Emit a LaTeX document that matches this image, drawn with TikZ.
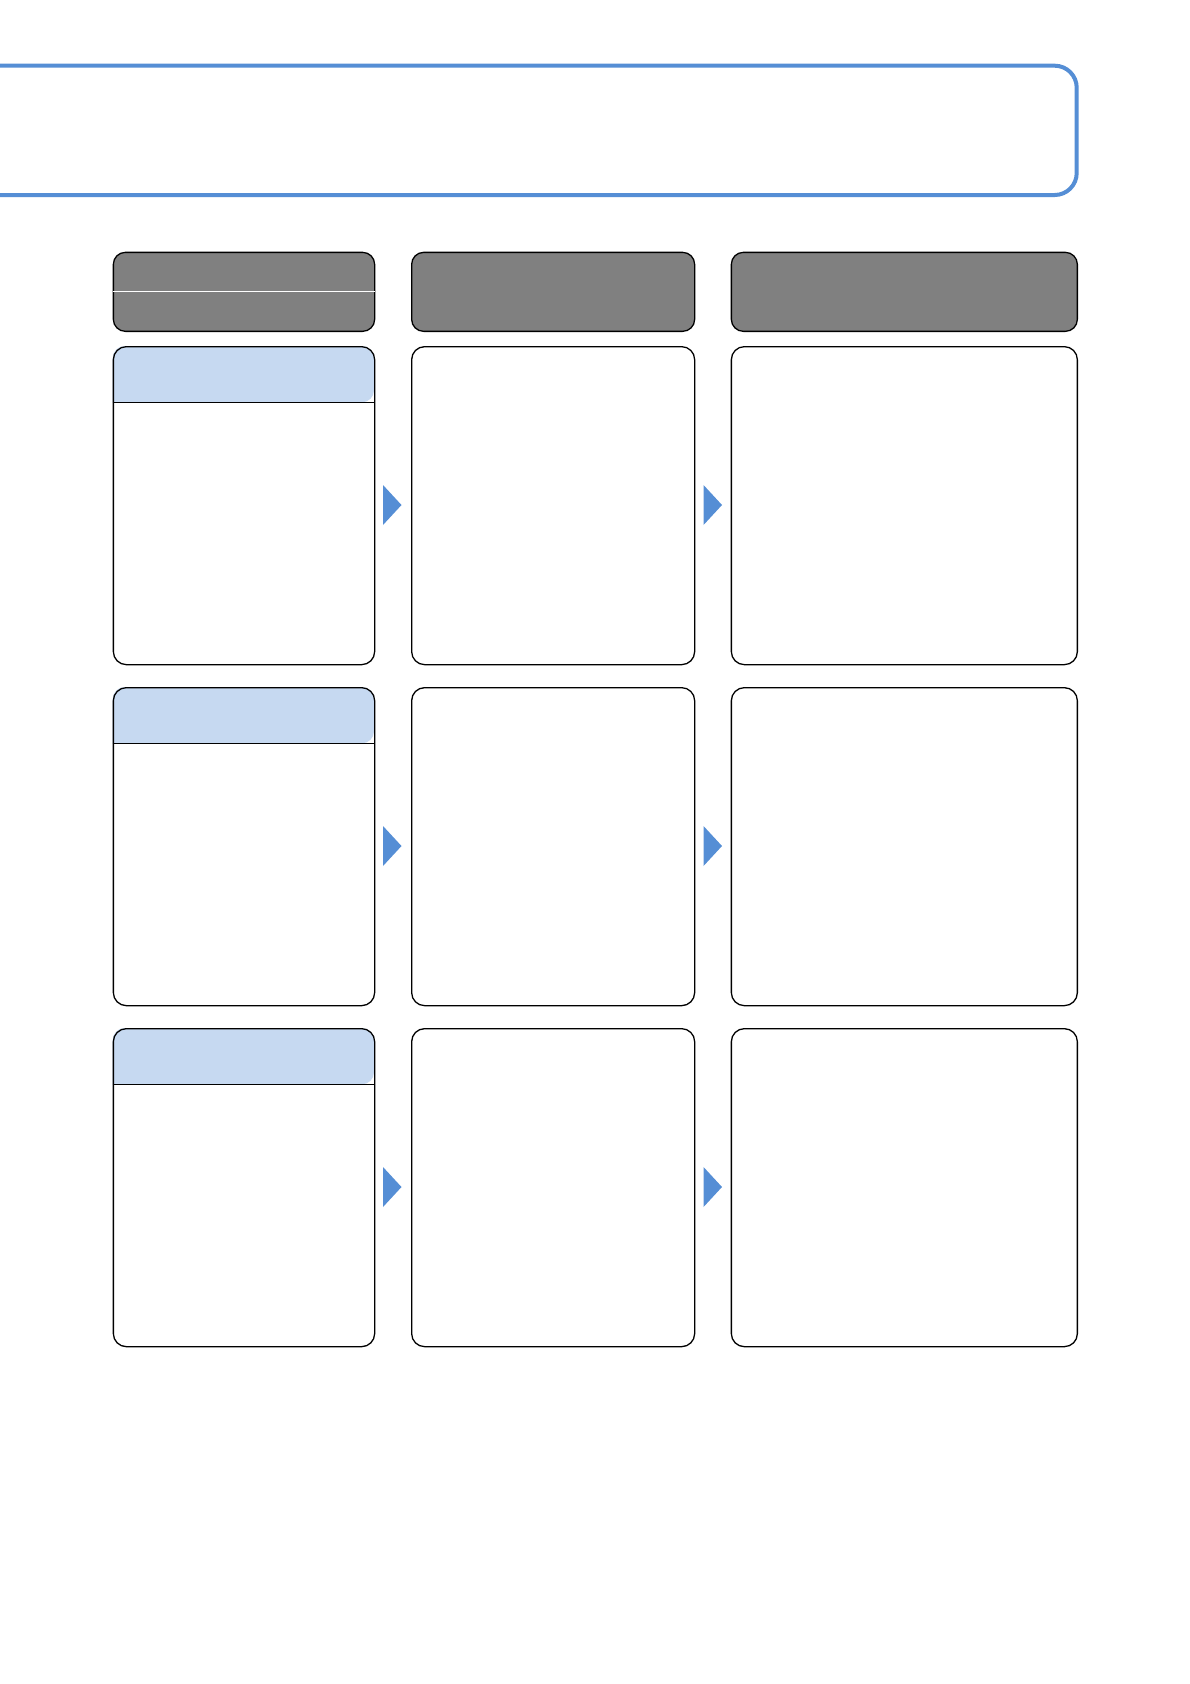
\documentclass[tikz,border=0pt]{standalone}
\definecolor{bannerblue}{HTML}{558ED5}
\definecolor{lightblue}{HTML}{C6D9F1}
\definecolor{hdrgray}{HTML}{808080}
\begin{document}
\begin{tikzpicture}[x=1pt,y=-1pt,
  hdrbox/.style={draw=black, fill=hdrgray, line width=1.3pt, rounded corners=12pt, anchor=north west, inner sep=0pt, minimum height=79pt},
  bodybox/.style={draw=black, line width=1.3pt, rounded corners=13pt, anchor=north west, inner sep=0pt, minimum height=318pt},
  flowarrow/.style={fill=bannerblue}]
\useasboundingbox (0,0) rectangle (1190,1684);
\fill[white] (0,0) rectangle (1190,1684);
% banner
\draw[bannerblue, line width=4pt, rounded corners=22pt] (-20,65.7) -- (1076.7,65.7) -- (1076.7,195) -- (-20,195);
% column headers
\node[hdrbox, minimum width=261.3pt] (h1) at (112.7,251.7) {};
\node[hdrbox, minimum width=283pt] (h2) at (411,251.7) {};
\node[hdrbox, minimum width=346pt] (h3) at (730.7,251.7) {};
\draw[white, line width=1pt] (h1.west) -- (h1.east);
% rows
\foreach \r/\y in {1/346, 2/687, 3/1028} {
  \fill[lightblue] [rounded corners=12pt] (112.7,\y+56.3) |- (243,\y) -| (374,\y+56.3) [sharp corners] -- cycle;
  \node[bodybox, minimum width=261.3pt] (b\r a) at (112.7,\y) {};
  \node[bodybox, minimum width=283pt] (b\r b) at (411,\y) {};
  \node[bodybox, minimum width=346pt] (b\r c) at (730.7,\y) {};
  \draw[black, line width=1.3pt] (112.7,\y+56.3) -- (374,\y+56.3);
  \fill[flowarrow] (383,\y+139) -- (401.5,\y+159) -- (383,\y+179) -- cycle;
  \fill[flowarrow] (703.5,\y+139) -- (722,\y+159) -- (703.5,\y+179) -- cycle;
}
\end{tikzpicture}
\end{document}
